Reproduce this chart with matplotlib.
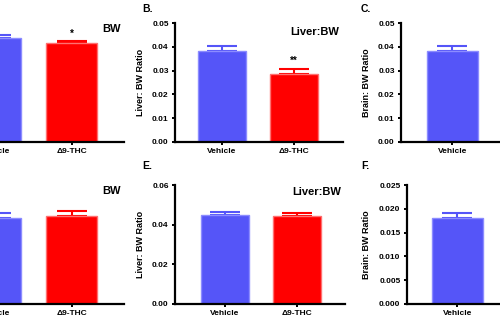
import matplotlib
matplotlib.use("Agg")
import matplotlib.pyplot as plt

plt.rcParams['font.family'] = ['Liberation Sans', 'DejaVu Sans']
plt.rcParams['font.weight'] = 'bold'

# ---------------- data ----------------
categories = ["Vehicle", "\u03949-THC"]
brain_categories = ["Vehicle"]

bw_top_mean = [350, 333]
bw_top_err = [10, 5]
liver_top_mean = [0.0382, 0.0287]
liver_top_err = [0.0020, 0.0020]
brain_top_mean = [0.0382]
brain_top_err = [0.0020]

bw_bot_mean = [288, 296]
bw_bot_err = [19, 18]
liver_bot_mean = [0.0449, 0.0445]
liver_bot_err = [0.0016, 0.0012]
brain_bot_mean = [0.0181]
brain_bot_err = [0.0011]

top_sig = ["", "*"]
liver_top_sig = ["", "**"]

# ---------------- style ----------------
W, H = 500, 319
BLUE = '#5555F8'
BLUE_EDGE = '#8C8CFF'
RED = '#FF0000'
RED_EDGE = '#FF7070'
colors = [BLUE, RED]
edges = [BLUE_EDGE, RED_EDGE]

fig = plt.figure(figsize=(W / 100, H / 100), dpi=100)


def ax_px(l, t, r, b):
    return fig.add_axes([l / W, 1 - b / H, (r - l) / W, (b - t) / H])


def draw(ax, cats, means, errs, ylim, yticks, xlim, width, ylabel=None,
         title=None, title_off=(4, 8), sig=None, yfmt="{:.2f}"):
    x = list(range(len(cats)))
    for i in x:
        ax.bar(i, means[i], width=width, color=colors[i], edgecolor=edges[i],
               linewidth=1.0, zorder=2)
        ax.errorbar(i, means[i], yerr=[[0], [errs[i]]], fmt='none',
                    ecolor=colors[i], elinewidth=1.5, capsize=10.5,
                    capthick=1.5, zorder=1)
        if sig and sig[i]:
            ax.annotate(sig[i], xy=(i, means[i] + errs[i]), xytext=(0, 2),
                        textcoords='offset points', ha='center', va='bottom',
                        fontsize=7, fontweight='bold')
    ax.set_xlim(*xlim)
    ax.set_ylim(*ylim)
    ax.set_xticks(x)
    ax.set_xticklabels(cats, fontsize=6, fontweight='bold')
    ax.set_yticks(yticks)
    ax.set_yticklabels([yfmt.format(v) for v in yticks], fontsize=6,
                       fontweight='bold')
    for s in ['top', 'right']:
        ax.spines[s].set_visible(False)
    for s in ['left', 'bottom']:
        ax.spines[s].set_linewidth(1.6)
    ax.tick_params(axis='both', direction='out', length=2.5, width=1.4, pad=2)
    ax.patch.set_alpha(0)
    if ylabel:
        ax.set_ylabel(ylabel, fontsize=6.5, fontweight='bold')
    if title:
        bb = ax.get_position()
        wpx = bb.width * W
        hpx = bb.height * H
        ax.text(1 - title_off[0] / wpx, 1 - title_off[1] / hpx, title,
                transform=ax.transAxes, ha='right', va='center',
                fontsize=8, fontweight='bold')


# Top row
axA = ax_px(-50, 23, 124, 142)
draw(axA, categories, bw_top_mean, bw_top_err, (0, 400), [0, 100, 200, 300, 400],
     (-0.6, 1.69), 0.67, title="BW", title_off=(3, 6), sig=top_sig,
     yfmt="{:.0f}")

axB = ax_px(175, 23, 343, 142)
draw(axB, categories, liver_top_mean, liver_top_err, (0, 0.05),
     [0.0, 0.01, 0.02, 0.03, 0.04, 0.05], (-0.65, 1.68), 0.67,
     ylabel="Liver: BW Ratio", title="Liver:BW", title_off=(4, 9),
     sig=liver_top_sig)
axB.yaxis.set_label_coords(-30 / 168, 0.5)

axC = ax_px(401, 23, 569, 142)
draw(axC, brain_categories, brain_top_mean, brain_top_err, (0, 0.05),
     [0.0, 0.01, 0.02, 0.03, 0.04, 0.05], (-0.715, 1.62), 0.71,
     ylabel="Brain: BW Ratio")
axC.yaxis.set_label_coords(-30 / 168, 0.5)

# Bottom row
axD = ax_px(-50, 185, 124, 304)
draw(axD, categories, bw_bot_mean, bw_bot_err, (0, 400), [0, 100, 200, 300, 400],
     (-0.6, 1.69), 0.67, title="BW", title_off=(3, 6), yfmt="{:.0f}")

axE = ax_px(175, 185, 345, 304)
draw(axE, categories, liver_bot_mean, liver_bot_err, (0, 0.06),
     [0.0, 0.02, 0.04, 0.06], (-0.69, 1.67), 0.67,
     ylabel="Liver: BW Ratio", title="Liver:BW", title_off=(4, 7))
axE.yaxis.set_label_coords(-30 / 170, 0.5)

axF = ax_px(406.7, 185, 575, 304)
draw(axF, brain_categories, brain_bot_mean, brain_bot_err, (0, 0.025),
     [0.0, 0.005, 0.01, 0.015, 0.02, 0.025], (-0.70, 1.62), 0.71,
     ylabel="Brain: BW Ratio", yfmt="{:.3f}")
axF.yaxis.set_label_coords(-36 / 168, 0.5)

# Panel letters
for lbl, xp, yp in [("B.", 142, 8.5), ("C.", 361, 8.5), ("E.", 142, 166),
                    ("F.", 361, 166)]:
    fig.text(xp / W, 1 - yp / H, lbl, ha='left', va='center', fontsize=7.5,
             fontweight='bold')

fig.savefig("out.png", dpi=100)
